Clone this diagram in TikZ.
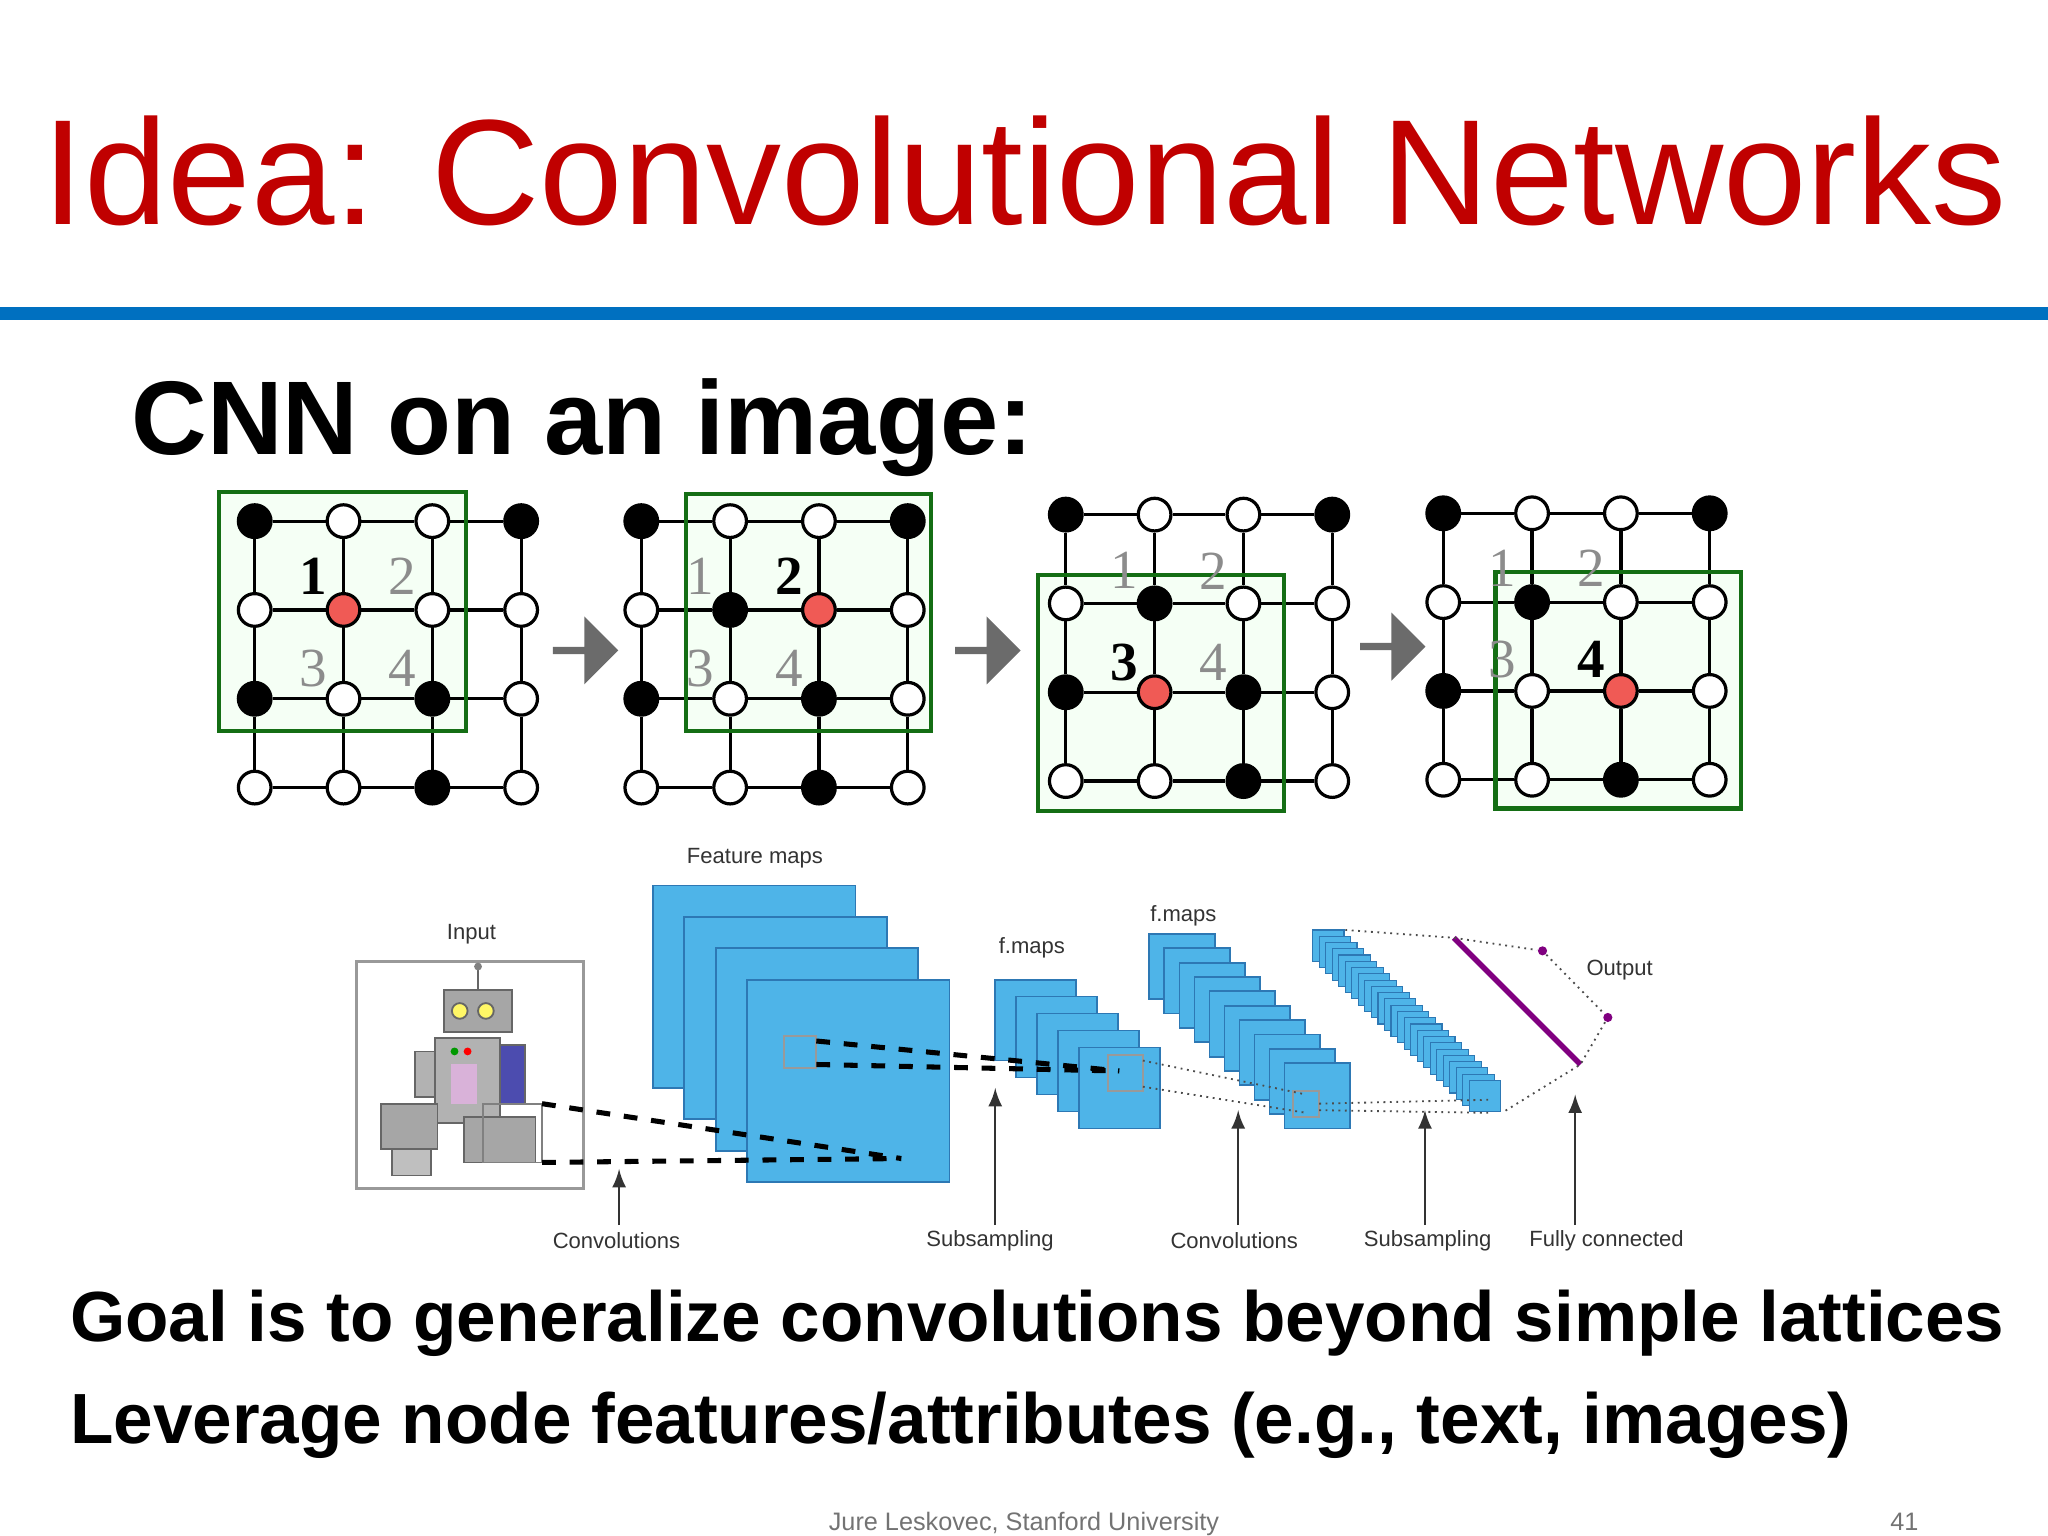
\documentclass[tikz,border=0pt]{standalone}
\usepackage{fontspec}
\setmainfont{Liberation Sans}
\newfontfamily\serifnum{Liberation Serif}
\usetikzlibrary{shapes.arrows,backgrounds}
\definecolor{tred}{RGB}{192,0,0}
\definecolor{tblue}{RGB}{0,112,192}
\definecolor{fmfill}{RGB}{78,180,232}
\definecolor{fmdraw}{RGB}{45,120,180}
\definecolor{gbox}{RGB}{20,110,20}
\definecolor{reddot}{RGB}{240,90,85}
\newcommand\mygrid[4]{%
 \foreach \s [count=\k from 0] in {#4} {\pgfmathtruncatemacro\cc{mod(\k,4)}\pgfmathtruncatemacro\rr{div(\k,4)}
   \node[dot\s] (#1-\rr-\cc) at ({#2+68*\cc},{#3+68*\rr}) {};}
 \begin{pgfonlayer}{background}
 \foreach \i in {0,...,3}{\foreach \j [evaluate=\j as \jn using int(\j+1)] in {0,1,2}{
   \draw[gl] (#1-\i-\j)--(#1-\i-\jn); \draw[gl] (#1-\j-\i)--(#1-\jn-\i);}}
 \end{pgfonlayer}}
\begin{document}
\begin{tikzpicture}[x=0.01cm,y=-0.01cm,
 dotB/.style={circle,draw=black,fill=black,minimum size=0.25cm,inner sep=0,line width=0.7pt},
 dotW/.style={dotB,fill=white},
 dotR/.style={dotB,fill=reddot},
 gl/.style={line width=0.7pt},
 gfill/.style={fill=green!4},
 gframe/.style={draw=gbox,line width=0.9pt},
 lblA/.style={font=\serifnum\fontsize{12}{12}\selectfont\bfseries},
 lblG/.style={font=\serifnum\fontsize{12}{12}\selectfont,text=black!45},
 barrow/.style={single arrow,fill=black!58,minimum width=0.52cm,minimum height=0.5cm,single arrow head extend=0.06cm,inner sep=0},
 fm/.style={fill=fmfill,draw=fmdraw,line width=0.4pt},
 small/.style={font=\fontsize{4.8}{6}\selectfont,text=black!80},
 uparr/.style={-latex,line width=0.4pt,black!80}]
\useasboundingbox (0,0) rectangle (1568,1176);
% title
\node[anchor=base west,text=tred,font=\fontsize{36}{40}\selectfont,inner sep=0] (title) at (32,172) {\resizebox{15.03cm}{!}{Idea: Convolutional Networks}};
\fill[tblue] (0,235) rectangle (1568,245);
\node[anchor=base west,font=\fontsize{28}{32}\selectfont\bfseries,inner sep=0] (cnn) at (100,348) {\resizebox{6.9cm}{!}{CNN on an image:}};
% grids
\begin{pgfonlayer}{background}
\fill[gfill] (168,377) rectangle (357,560);
\fill[gfill] (525,378) rectangle (713,560);
\fill[gfill] (795,440) rectangle (983,621);
\fill[gfill] (1145,438) rectangle (1333,619);
\end{pgfonlayer}
\mygrid{ga}{195}{399}{B,W,W,B,W,R,W,W,B,W,B,W,W,W,B,W}
\mygrid{gb}{491}{399}{B,W,W,B,W,B,R,W,B,W,B,W,W,W,B,W}
\mygrid{gc}{816}{394}{B,W,W,B,W,B,W,W,B,R,B,W,W,W,B,W}
\mygrid{gd}{1105}{393}{B,W,W,B,W,B,W,W,B,W,R,W,W,W,B,W}
\draw[gframe] (168,377) rectangle (357,560);
\draw[gframe] (525,378) rectangle (713,560);
\draw[gframe] (795,440) rectangle (983,621);
\draw[gframe] (1145,438) rectangle (1333,619);
\node[lblA] (a1) at (240,441) {1}; \node[lblG] (a2) at (308,441) {2};
\node[lblG] (a3) at (240,512) {3}; \node[lblG] (a4) at (308,512) {4};
\node[lblG] (b1) at (536,441) {1}; \node[lblA] (b2) at (604,441) {2};
\node[lblG] (b3) at (536,512) {3}; \node[lblG] (b4) at (604,512) {4};
\node[lblG] (c1) at (861,437) {1}; \node[lblG] (c2) at (929,437) {2};
\node[lblA] (c3) at (861,507) {3}; \node[lblG] (c4) at (929,507) {4};
\node[lblG] (d1) at (1150,435) {1}; \node[lblG] (d2) at (1218,435) {2};
\node[lblG] (d3) at (1150,505) {3}; \node[lblA] (d4) at (1218,505) {4};
\node[barrow] (ar1) at (447,498) {};
\node[barrow] (ar2) at (755,498) {};
\node[barrow] (ar3) at (1065,495) {};
% input
\node[small] (inlbl) at (361,715) {Input};
\draw[black!40,line width=0.6pt,fill=white] (273,736) rectangle (447,910);
% robot
\draw[black!60,fill=black!35] (340,758) rectangle (392,790);
\draw[black!60,fill=yellow!60] (352,774) circle (6); \draw[black!60,fill=yellow!60] (372,774) circle (6);
\draw[black!60] (366,758) -- (366,742); \fill[black!50] (366,740) circle (3);
\draw[black!60,fill=black!30] (333,795) rectangle (383,860);
\fill[violet!30] (345,815) rectangle (365,845);
\fill[green!60!black] (348,805) circle (3); \fill[red] (358,805) circle (3);
\draw[black!60,fill=blue!55!black!70] (383,800) rectangle (402,845);
\draw[black!60,fill=black!30] (318,805) rectangle (333,840);
\draw[black!60,fill=black!35] (292,845) rectangle (335,880);
\draw[black!60,fill=black!35] (355,855) rectangle (410,890);
\draw[black!60,fill=black!25] (300,880) rectangle (330,900);
\draw[black!50] (370,845) rectangle (415,890);
\coordinate (ins1) at (415,845); \coordinate (ins2) at (415,890);
% feature maps
\node[small] (fmlbl) at (578,657) {Feature maps};
\foreach \i in {0,...,3}{\draw[fm] ({500+24*\i},{678+24*\i}) rectangle ++(155,155);}
\draw[black!40] (600,793) rectangle (625,818);
\coordinate (fs1) at (625,797); \coordinate (fs2) at (625,815);
\coordinate (ft) at (690,887);
\draw[dashed,line width=1.1pt] (ins1) -- (ft); \draw[dashed,line width=1.1pt] (ins2) -- (ft);
% f.maps 2
\node[small] (fm2lbl) at (790,726) {f.maps};
\foreach \i in {0,...,4}{\draw[fm] ({762+16*\i},{750+13*\i}) rectangle ++(62,62);}
\draw[black!40] (848,808) rectangle (875,835);
\coordinate (ft2) at (857,820);
\draw[dashed,line width=1.1pt] (fs1) -- (ft2); \draw[dashed,line width=1.1pt] (fs2) -- (ft2);
% f.maps 3
\node[small] (fm3lbl) at (906,701) {f.maps};
\foreach \i in {0,...,9}{\draw[fm] ({880+11.5*\i},{715+11*\i}) rectangle ++(50,50);}
\draw[black!40] (990,835) rectangle (1010,855);
\draw[densely dotted,black!70] (875,812) -- (1000,838);
\draw[densely dotted,black!70] (875,832) -- (1000,852);
% f.maps 4
\foreach \i in {0,...,24}{\draw[fm,line width=0.25pt] ({1005+5*\i},{712+4.8*\i}) rectangle ++(24,24);}
\draw[densely dotted,black!70] (1010,845) -- (1140,842);
\draw[densely dotted,black!70] (1010,850) -- (1140,852);
% output
\node[circle,fill=violet,inner sep=0,minimum size=0.07cm] (o1) at (1181,728) {};
\node[circle,fill=violet,inner sep=0,minimum size=0.07cm] (o2) at (1231,779) {};
\draw[violet,line width=1.2pt] (1113,718) -- (1210,815);
\draw[densely dotted,black!70] (1030,712) -- (1113,718) -- (o1) -- (o2) -- (1210,815) -- (1150,852);
\node[small] (outlbl) at (1240,743) {Output};
% bottom labels
\node[small] (l1) at (472,950) {Convolutions};
\node[small] (l2) at (758,950) {Subsampling};
\node[small] (l3) at (945,950) {Convolutions};
\node[small] (l4) at (1093,950) {Subsampling};
\node[small] (l5) at (1230,950) {Fully connected};
\draw[uparr] (474,938) -- (474,895);
\draw[uparr] (762,938) -- (762,833);
\draw[uparr] (948,938) -- (948,850);
\draw[uparr] (1091,938) -- (1091,850);
\draw[uparr] (1206,938) -- (1206,838);
% bottom text
\node[anchor=base west,font=\fontsize{17.3}{20}\selectfont\bfseries,inner sep=0] (goal) at (53,1027) {\resizebox{14.8cm}{!}{Goal is to generalize convolutions beyond simple lattices}};
\node[anchor=base west,font=\fontsize{17.3}{20}\selectfont\bfseries,inner sep=0] (lev) at (53,1105) {\resizebox{13.63cm}{!}{Leverage node features/attributes (e.g., text, images)}};
\node[anchor=base,font=\fontsize{5.5}{6}\selectfont,text=black!55,inner sep=0] (foot) at (784,1172) {Jure Leskovec, Stanford University};
\node[anchor=base,font=\fontsize{5.5}{6}\selectfont,text=black!55,inner sep=0] (pg) at (1458,1172) {41};
\end{tikzpicture}
\end{document}
